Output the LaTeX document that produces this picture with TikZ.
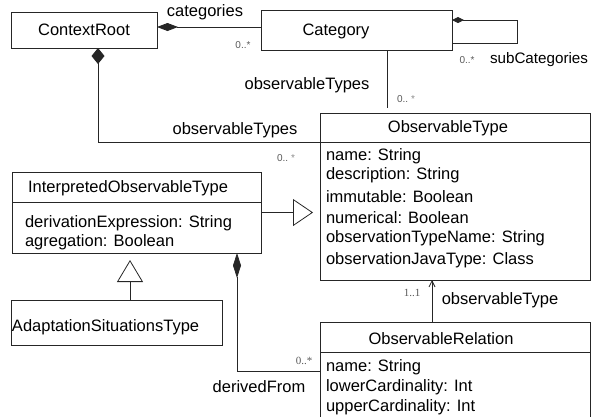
\documentclass[tikz,border=0pt]{standalone}
\usepackage{fontspec}
\setmainfont{Liberation Sans}
\newfontfamily\multserif{Liberation Serif}
\usetikzlibrary{arrows.meta}
\definecolor{linec}{gray}{0.15}
\definecolor{multc}{gray}{0.35}
\definecolor{starc}{gray}{0.55}
\begin{document}
\begin{tikzpicture}[x=1pt,y=-1pt,
  every node/.style={inner sep=0pt, outer sep=0pt},
  uml/.style={draw=linec, line width=0.8pt, rectangle, font=\fontsize{16.5}{19}\selectfont},
  txt/.style={font=\fontsize{16.5}{19}\selectfont, text=black},
  attr/.style={txt, anchor=west},
  mult/.style={font=\fontsize{10}{12}\selectfont, text=multc},
  smult/.style={font=\multserif\fontsize{11}{12}\selectfont, text=multc},
  link/.style={draw=linec, line width=0.8pt},
]
\useasboundingbox (0,0) rectangle (591,416);

% classes
\node[uml, minimum width=146pt, minimum height=36pt] (cr) at (84,30) {ContextRoot};
\node[uml, minimum width=191pt, minimum height=40pt] (cat) at (356.5,30) {};
\node[txt] (catT) at (336,31) {Category};

\node[uml, minimum width=270pt, minimum height=167pt] (ot) at (455,196.5) {};
\draw[link] ([yshift=-29pt]ot.north west) -- ([yshift=-29pt]ot.north east);
\node[txt] (otT) at (448,128) {ObservableType};
\node[attr] (ot1) at (326,156) {name: String};
\node[attr] (ot2) at (326,175) {description: String};
\node[attr] (ot3) at (326,197) {immutable: Boolean};
\node[attr] (ot4) at (326,218) {numerical: Boolean};
\node[attr] (ot5) at (326,238) {observationTypeName: String};
\node[attr] (ot6) at (326,260) {observationJavaType: Class};

\node[uml, minimum width=249pt, minimum height=81pt] (iot) at (136.5,212.5) {};
\draw[link] ([yshift=-30pt]iot.north west) -- ([yshift=-30pt]iot.north east);
\node[txt] (iotT) at (128,188) {InterpretedObservableType};
\node[attr] (iot1) at (25,223) {derivationExpression: String};
\node[attr] (iot2) at (25,242) {agregation: Boolean};

\node[uml, minimum width=211pt, minimum height=45pt] (ast) at (116.5,322.5) {};
\node[attr] (astT) at (12,327) {AdaptationSituationsType};

\node[uml, minimum width=270pt, minimum height=118pt] (or) at (455,381) {};
\draw[link] ([yshift=-30pt]or.north west) -- ([yshift=-30pt]or.north east);
\node[txt] (orT) at (441,339) {ObservableRelation};
\node[attr] (or1) at (326,367) {name: String};
\node[attr] (or2) at (326,387) {lowerCardinality: Int};
\node[attr] (or3) at (326,407) {upperCardinality: Int};

% ContextRoot -- Category (composition)
\draw[link, {Diamond[length=21pt,width=8pt]}-] ([yshift=3pt]cr.east) -- ([yshift=3pt]cat.west);
\node[txt] (lcat) at (205,12) {categories};
\node[mult] (mcat) at (243,45) {0..*};

% Category self composition
\draw[link, {Diamond[length=12pt,width=6pt]}-] ([yshift=10pt]cat.east) -- ++(65,0) |- ([yshift=-13pt]cat.east);
\node[mult] (msub) at (467,60) {0..*};
\node[txt, anchor=west, font=\fontsize{15.2}{18}\selectfont] (lsub) at (490,60) {subCategories};

% Category -- ObservableType
\draw[link, shorten >=5pt] ([xshift=31pt]cat.south) -- ([xshift=31pt]cat.south |- ot.north);
\node[txt] (lcot) at (307,85) {observableTypes};
\node[mult] (mcot) at (406,99) {0..~\textcolor{starc}{*}};

% ContextRoot -- ObservableType (composition)
\draw[link, {Diamond[length=16pt,width=13pt]}-] ([xshift=14pt]cr.south) |- ([yshift=-29pt]ot.north west);
\node[txt] (lrot) at (235,130) {observableTypes};
\node[mult] (mrot) at (286,158) {0..~\textcolor{starc}{*}};

% generalizations
\draw[link, -{Triangle[open,length=20pt,width=27pt]}, shorten >=7pt] (iot.east) -- (iot.east -| ot.west);
\draw[link, -{Triangle[open,length=22pt,width=26pt]}, shorten >=7pt] ([xshift=13.5pt]ast.north) -- ([xshift=13.5pt]ast.north |- iot.south);

% InterpretedObservableType -- ObservableRelation (composition)
\draw[link, {Diamond[length=25pt,width=8pt]}-] ([xshift=100.5pt]iot.south) |- ([yshift=10pt]or.west);
\node[smult] (mder) at (304,361) {0..*};
\node[txt] (lder) at (259,387) {derivedFrom};

% ObservableRelation -> ObservableType
\draw[link, -{Straight Barb[length=6pt,width=6pt]}] ([xshift=-23pt]or.north) -- ([xshift=-23pt]or.north |- ot.south);
\node[smult] (mrel) at (412,293) {1..1};
\node[txt] (lrel) at (500,300) {observableType};
\end{tikzpicture}
\end{document}
